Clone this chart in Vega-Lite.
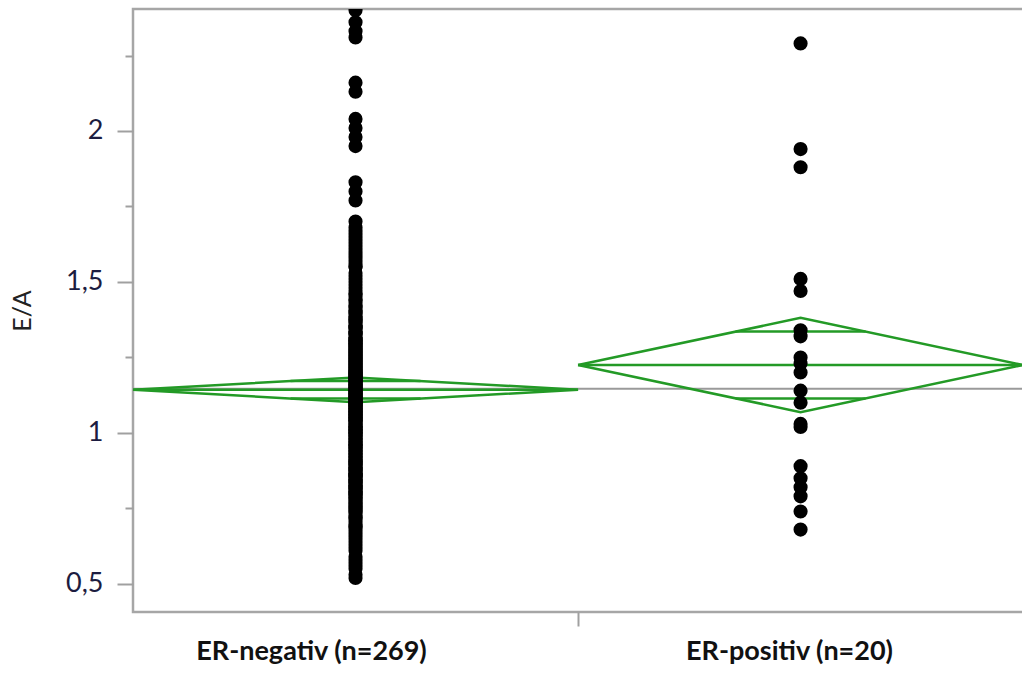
{
  "$schema": "https://vega.github.io/schema/vega-lite/v6.json",
  "width": 899,
  "height": 603,
  "autosize": {"type": "none"},
  "padding": {"left": 133, "top": 9, "right": 0, "bottom": 65},
  "background": "white",
  "config": {"view": {"stroke": "#a6a6a6", "strokeWidth": 2.5}, "font": "Lato"},
  "datasets": {
    "groups": [{"g": "neg", "pos": 0.5}, {"g": "pos", "pos": 1.5}],
    "overall": [{"mean": 1.146}],
    "diamonds": [
      {"seg": "negOutline", "o": 0, "x": 0, "y": 1.143},
      {"seg": "negOutline", "o": 1, "x": 0.5, "y": 1.184},
      {"seg": "negOutline", "o": 2, "x": 1, "y": 1.143},
      {"seg": "negOutline", "o": 3, "x": 0.5, "y": 1.102},
      {"seg": "negOutline", "o": 4, "x": 0, "y": 1.143},
      {"seg": "negMean", "o": 0, "x": 0, "y": 1.143},
      {"seg": "negMean", "o": 1, "x": 1, "y": 1.143},
      {"seg": "negOvUp", "o": 0, "x": 0.354, "y": 1.172},
      {"seg": "negOvUp", "o": 1, "x": 0.646, "y": 1.172},
      {"seg": "negOvLow", "o": 0, "x": 0.354, "y": 1.114},
      {"seg": "negOvLow", "o": 1, "x": 0.646, "y": 1.114},
      {"seg": "posOutline", "o": 0, "x": 1, "y": 1.225},
      {"seg": "posOutline", "o": 1, "x": 1.5, "y": 1.381},
      {"seg": "posOutline", "o": 2, "x": 2, "y": 1.225},
      {"seg": "posOutline", "o": 3, "x": 1.5, "y": 1.069},
      {"seg": "posOutline", "o": 4, "x": 1, "y": 1.225},
      {"seg": "posMean", "o": 0, "x": 1, "y": 1.225},
      {"seg": "posMean", "o": 1, "x": 2, "y": 1.225},
      {"seg": "posOvUp", "o": 0, "x": 1.354, "y": 1.336},
      {"seg": "posOvUp", "o": 1, "x": 1.646, "y": 1.336},
      {"seg": "posOvLow", "o": 0, "x": 1.354, "y": 1.114},
      {"seg": "posOvLow", "o": 1, "x": 1.646, "y": 1.114}
    ],
    "points": [
      {"g":"neg","EA":2.40},{"g":"neg","EA":2.36},{"g":"neg","EA":2.33},{"g":"neg","EA":2.31},{"g":"neg","EA":2.16},{"g":"neg","EA":2.13},{"g":"neg","EA":2.04},{"g":"neg","EA":2.01},{"g":"neg","EA":1.98},{"g":"neg","EA":1.95},{"g":"neg","EA":1.83},{"g":"neg","EA":1.80},{"g":"neg","EA":1.77},
      {"g":"neg","EA":0.52},{"g":"neg","EA":0.53},{"g":"neg","EA":0.55},{"g":"neg","EA":0.56},{"g":"neg","EA":0.58},{"g":"neg","EA":0.59},{"g":"neg","EA":0.61},{"g":"neg","EA":0.62},{"g":"neg","EA":0.63},{"g":"neg","EA":0.65},{"g":"neg","EA":0.66},{"g":"neg","EA":0.67},{"g":"neg","EA":0.68},{"g":"neg","EA":0.69},{"g":"neg","EA":0.70},
      {"g":"neg","EA":0.71},{"g":"neg","EA":0.72},{"g":"neg","EA":0.72},{"g":"neg","EA":0.73},{"g":"neg","EA":0.74},{"g":"neg","EA":0.75},{"g":"neg","EA":0.75},{"g":"neg","EA":0.76},{"g":"neg","EA":0.77},{"g":"neg","EA":0.77},{"g":"neg","EA":0.78},{"g":"neg","EA":0.79},{"g":"neg","EA":0.79},{"g":"neg","EA":0.80},{"g":"neg","EA":0.80},
      {"g":"neg","EA":0.81},{"g":"neg","EA":0.81},{"g":"neg","EA":0.82},{"g":"neg","EA":0.82},{"g":"neg","EA":0.83},{"g":"neg","EA":0.83},{"g":"neg","EA":0.84},{"g":"neg","EA":0.84},{"g":"neg","EA":0.85},{"g":"neg","EA":0.85},{"g":"neg","EA":0.86},{"g":"neg","EA":0.86},{"g":"neg","EA":0.86},{"g":"neg","EA":0.87},{"g":"neg","EA":0.87},{"g":"neg","EA":0.88},{"g":"neg","EA":0.88},{"g":"neg","EA":0.89},{"g":"neg","EA":0.89},{"g":"neg","EA":0.90},{"g":"neg","EA":0.90},
      {"g":"neg","EA":0.91},{"g":"neg","EA":0.91},{"g":"neg","EA":0.91},{"g":"neg","EA":0.92},{"g":"neg","EA":0.92},{"g":"neg","EA":0.93},{"g":"neg","EA":0.93},{"g":"neg","EA":0.93},{"g":"neg","EA":0.94},{"g":"neg","EA":0.94},{"g":"neg","EA":0.95},{"g":"neg","EA":0.95},{"g":"neg","EA":0.95},{"g":"neg","EA":0.96},{"g":"neg","EA":0.96},{"g":"neg","EA":0.96},{"g":"neg","EA":0.97},{"g":"neg","EA":0.97},{"g":"neg","EA":0.98},{"g":"neg","EA":0.98},{"g":"neg","EA":0.98},{"g":"neg","EA":0.99},{"g":"neg","EA":0.99},{"g":"neg","EA":1.00},{"g":"neg","EA":1.00},{"g":"neg","EA":1.00},
      {"g":"neg","EA":1.01},{"g":"neg","EA":1.01},{"g":"neg","EA":1.01},{"g":"neg","EA":1.02},{"g":"neg","EA":1.02},{"g":"neg","EA":1.02},{"g":"neg","EA":1.03},{"g":"neg","EA":1.03},{"g":"neg","EA":1.03},{"g":"neg","EA":1.04},{"g":"neg","EA":1.04},{"g":"neg","EA":1.04},{"g":"neg","EA":1.05},{"g":"neg","EA":1.05},{"g":"neg","EA":1.05},{"g":"neg","EA":1.06},{"g":"neg","EA":1.06},{"g":"neg","EA":1.06},{"g":"neg","EA":1.07},{"g":"neg","EA":1.07},{"g":"neg","EA":1.07},{"g":"neg","EA":1.08},{"g":"neg","EA":1.08},{"g":"neg","EA":1.08},{"g":"neg","EA":1.09},{"g":"neg","EA":1.09},{"g":"neg","EA":1.09},{"g":"neg","EA":1.10},{"g":"neg","EA":1.10},{"g":"neg","EA":1.10},
      {"g":"neg","EA":1.11},{"g":"neg","EA":1.11},{"g":"neg","EA":1.11},{"g":"neg","EA":1.12},{"g":"neg","EA":1.12},{"g":"neg","EA":1.12},{"g":"neg","EA":1.13},{"g":"neg","EA":1.13},{"g":"neg","EA":1.13},{"g":"neg","EA":1.14},{"g":"neg","EA":1.14},{"g":"neg","EA":1.14},{"g":"neg","EA":1.15},{"g":"neg","EA":1.15},{"g":"neg","EA":1.15},{"g":"neg","EA":1.16},{"g":"neg","EA":1.16},{"g":"neg","EA":1.16},{"g":"neg","EA":1.17},{"g":"neg","EA":1.17},{"g":"neg","EA":1.17},{"g":"neg","EA":1.18},{"g":"neg","EA":1.18},{"g":"neg","EA":1.18},{"g":"neg","EA":1.19},{"g":"neg","EA":1.19},{"g":"neg","EA":1.19},{"g":"neg","EA":1.20},{"g":"neg","EA":1.20},{"g":"neg","EA":1.20},
      {"g":"neg","EA":1.21},{"g":"neg","EA":1.21},{"g":"neg","EA":1.22},{"g":"neg","EA":1.22},{"g":"neg","EA":1.23},{"g":"neg","EA":1.23},{"g":"neg","EA":1.24},{"g":"neg","EA":1.24},{"g":"neg","EA":1.25},{"g":"neg","EA":1.25},{"g":"neg","EA":1.26},{"g":"neg","EA":1.26},{"g":"neg","EA":1.27},{"g":"neg","EA":1.27},{"g":"neg","EA":1.28},{"g":"neg","EA":1.28},{"g":"neg","EA":1.29},{"g":"neg","EA":1.29},{"g":"neg","EA":1.30},{"g":"neg","EA":1.30},
      {"g":"neg","EA":1.31},{"g":"neg","EA":1.31},{"g":"neg","EA":1.32},{"g":"neg","EA":1.33},{"g":"neg","EA":1.33},{"g":"neg","EA":1.34},{"g":"neg","EA":1.35},{"g":"neg","EA":1.35},{"g":"neg","EA":1.36},{"g":"neg","EA":1.37},{"g":"neg","EA":1.37},{"g":"neg","EA":1.38},{"g":"neg","EA":1.39},{"g":"neg","EA":1.40},{"g":"neg","EA":1.40},
      {"g":"neg","EA":1.41},{"g":"neg","EA":1.42},{"g":"neg","EA":1.43},{"g":"neg","EA":1.44},{"g":"neg","EA":1.45},{"g":"neg","EA":1.46},{"g":"neg","EA":1.47},{"g":"neg","EA":1.48},{"g":"neg","EA":1.49},{"g":"neg","EA":1.50},
      {"g":"neg","EA":1.51},{"g":"neg","EA":1.52},{"g":"neg","EA":1.53},{"g":"neg","EA":1.55},{"g":"neg","EA":1.56},{"g":"neg","EA":1.57},{"g":"neg","EA":1.58},{"g":"neg","EA":1.60},{"g":"neg","EA":1.61},{"g":"neg","EA":1.62},{"g":"neg","EA":1.63},{"g":"neg","EA":1.64},{"g":"neg","EA":1.66},{"g":"neg","EA":1.67},{"g":"neg","EA":1.68},{"g":"neg","EA":1.70},
      {"g":"neg","EA":0.84},{"g":"neg","EA":0.86},{"g":"neg","EA":0.88},{"g":"neg","EA":0.90},{"g":"neg","EA":0.92},{"g":"neg","EA":0.94},{"g":"neg","EA":0.96},{"g":"neg","EA":0.97},{"g":"neg","EA":0.99},{"g":"neg","EA":1.00},
      {"g":"neg","EA":1.01},{"g":"neg","EA":1.02},{"g":"neg","EA":1.04},{"g":"neg","EA":1.05},{"g":"neg","EA":1.06},{"g":"neg","EA":1.07},{"g":"neg","EA":1.08},{"g":"neg","EA":1.09},{"g":"neg","EA":1.10},{"g":"neg","EA":1.10},
      {"g":"neg","EA":1.11},{"g":"neg","EA":1.12},{"g":"neg","EA":1.13},{"g":"neg","EA":1.14},{"g":"neg","EA":1.15},{"g":"neg","EA":1.16},{"g":"neg","EA":1.17},{"g":"neg","EA":1.18},{"g":"neg","EA":1.19},{"g":"neg","EA":1.20},
      {"g":"neg","EA":1.21},{"g":"neg","EA":1.22},{"g":"neg","EA":1.23},{"g":"neg","EA":1.24},{"g":"neg","EA":1.25},{"g":"neg","EA":1.26},{"g":"neg","EA":1.27},{"g":"neg","EA":1.28},{"g":"neg","EA":1.29},{"g":"neg","EA":1.30},
      {"g":"neg","EA":0.74},{"g":"neg","EA":0.76},{"g":"neg","EA":0.78},{"g":"neg","EA":0.80},{"g":"neg","EA":0.82},
      {"g":"neg","EA":1.31},{"g":"neg","EA":1.33},{"g":"neg","EA":1.35},{"g":"neg","EA":1.38},{"g":"neg","EA":1.42},{"g":"neg","EA":1.44},{"g":"neg","EA":1.46},{"g":"neg","EA":1.55},
      {"g":"neg","EA":0.57},{"g":"neg","EA":0.64},{"g":"neg","EA":0.69},{"g":"neg","EA":1.59},{"g":"neg","EA":1.65},
      {"g":"pos","EA":2.29},{"g":"pos","EA":1.94},{"g":"pos","EA":1.88},{"g":"pos","EA":1.51},{"g":"pos","EA":1.47},{"g":"pos","EA":1.34},{"g":"pos","EA":1.32},{"g":"pos","EA":1.25},{"g":"pos","EA":1.23},{"g":"pos","EA":1.20},{"g":"pos","EA":1.14},{"g":"pos","EA":1.10},{"g":"pos","EA":1.03},{"g":"pos","EA":1.02},{"g":"pos","EA":0.89},{"g":"pos","EA":0.85},{"g":"pos","EA":0.82},{"g":"pos","EA":0.79},{"g":"pos","EA":0.74},{"g":"pos","EA":0.68}
    ]
  },
  "layer": [
    {
      "data": {"name": "points"},
      "transform": [{"lookup": "g", "from": {"data": {"name": "groups"}, "key": "g", "fields": ["pos"]}}],
      "mark": {"type": "circle", "opacity": 0, "size": 1},
      "encoding": {
        "x": {
          "field": "pos", "type": "quantitative", "title": null,
          "scale": {"domain": [0, 2.02], "nice": false, "zero": false},
          "axis": {
            "values": [0.4, 1, 1.474],
            "domain": false, "grid": false,
            "tickColor": "#a0a0a0", "tickWidth": 2, "tickSize": 14,
            "tickOpacity": {"condition": {"test": "datum.value == 1", "value": 1}, "value": 0},
            "labelExpr": "datum.value < 0.8 ? 'ER-negativ (n=269)' : (datum.value > 1.2 ? 'ER-positiv (n=20)' : '')",
            "labelFont": "Lato", "labelFontSize": 27, "labelFontWeight": "bold", "labelColor": "#111111",
            "labelPadding": 12, "labelFlush": false, "labelOverlap": false, "labelLimit": 0
          }
        },
        "y": {
          "field": "EA", "type": "quantitative", "title": "E/A",
          "scale": {"domain": [0.407, 2.404], "nice": false, "zero": false},
          "axis": {
            "values": [0.5, 0.75, 1, 1.25, 1.5, 1.75, 2, 2.25],
            "domain": false, "grid": false,
            "tickColor": "#a0a0a0", "tickWidth": 2,
            "tickSize": {"condition": {"test": "datum.value % 0.5 == 0", "value": 16}, "value": 8},
            "labelExpr": "datum.value % 0.5 == 0 ? replace(format(datum.value, '.1~f'), '.', ',') : ''",
            "labelFont": "Lato", "labelFontSize": 27, "labelColor": "#1c1c40",
            "labelPadding": 14, "labelFlush": false, "labelOverlap": false,
            "titleFont": "Lato", "titleFontSize": 25, "titleFontWeight": "normal", "titleColor": "#222222",
            "titlePadding": 30
          }
        }
      }
    },
    {
      "data": {"name": "overall"},
      "mark": {"type": "rule", "color": "#9a9a9a", "strokeWidth": 2},
      "encoding": {
        "y": {"field": "mean", "type": "quantitative", "scale": {"domain": [0.407, 2.404], "nice": false, "zero": false}, "title": "E/A"}
      }
    },
    {
      "data": {"name": "diamonds"},
      "mark": {"type": "line", "color": "#239a26", "strokeWidth": 2.5},
      "encoding": {
        "x": {"field": "x", "type": "quantitative", "scale": {"domain": [0, 2.02], "nice": false, "zero": false}, "title": null},
        "y": {"field": "y", "type": "quantitative", "scale": {"domain": [0.407, 2.404], "nice": false, "zero": false}, "title": "E/A"},
        "detail": {"field": "seg"},
        "order": {"field": "o"}
      }
    },
    {
      "data": {"name": "points"},
      "transform": [{"lookup": "g", "from": {"data": {"name": "groups"}, "key": "g", "fields": ["pos"]}}],
      "mark": {"type": "circle", "color": "black", "opacity": 1, "size": 200, "clip": true},
      "encoding": {
        "x": {"field": "pos", "type": "quantitative", "scale": {"domain": [0, 2.02], "nice": false, "zero": false}, "title": null},
        "y": {"field": "EA", "type": "quantitative", "scale": {"domain": [0.407, 2.404], "nice": false, "zero": false}, "title": "E/A"}
      }
    }
  ]
}
